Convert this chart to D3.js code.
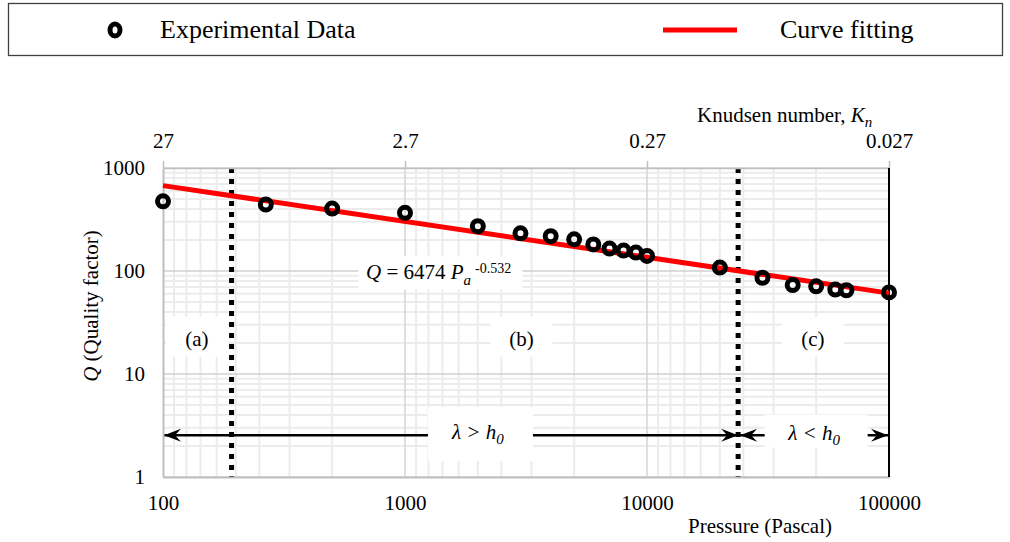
<!DOCTYPE html>
<html>
<head>
<meta charset="utf-8">
<script src="https://cdn.jsdelivr.net/npm/d3@7/dist/d3.min.js"></script>
<style>
  html, body { margin: 0; padding: 0; background: #fff; }
  svg { display: block; font-family: "Liberation Serif", "Times New Roman", serif; }
</style>
</head>
<body>
<svg id="chart" width="1010" height="542"></svg>
<script>
// Measured quality factor vs. chamber pressure
const pressure = [100, 266, 500, 1000, 2000, 3000, 4000, 5000, 6000, 7000, 8000, 9000, 10000,
                  20000, 30000, 40000, 50000, 60000, 66700, 100000];
const quality  = [475, 442, 404, 367, 272, 232, 218, 203, 181, 165, 158, 151, 140,
                  108, 86, 73, 71, 66, 65, 62];

// Power-law fit drawn as the red curve
const fitCoef = 3350;
const fitExp = -0.348;

// Axis ticks
const pressureTicks = [100, 1000, 10000, 100000];
const qualityTicks = [1, 10, 100, 1000];
const knudsenTicks = [27, 2.7, 0.27, 0.027];
const knudsenLabels = ["27", "2.7", "0.27", "0.027"];

// Regime boundaries (Pa)
const boundaries = [192, 23800];

const svg = d3.select("#chart");

const x = d3.scaleLog().domain([100, 100000]).range([163, 889]);
const y = d3.scaleLog().domain([1, 1000]).range([477, 168]);
const kn = d3.scaleLog().domain([27, 0.027]).range([163, 889]);

// ---- gridlines ----
const grid = svg.append("g");
const minorY = [];
[1, 10, 100].forEach(d => { for (let k = 2; k <= 9; k++) minorY.push(d * k); });
const minorKn = [];
[0.027, 0.27, 2.7].forEach(d => { for (let k = 2; k <= 9; k++) minorKn.push(d * k); });

grid.selectAll(".mx").data(minorKn).join("line")
  .attr("x1", d => kn(d)).attr("x2", d => kn(d))
  .attr("y1", y(1000)).attr("y2", y(1))
  .attr("stroke", "#ececec").attr("stroke-width", 2);
grid.selectAll(".my").data(minorY).join("line")
  .attr("x1", x(100)).attr("x2", x(100000))
  .attr("y1", d => y(d)).attr("y2", d => y(d))
  .attr("stroke", "#ececec").attr("stroke-width", 2);
grid.selectAll(".Mx").data(pressureTicks.slice(1, 3)).join("line")
  .attr("x1", d => x(d)).attr("x2", d => x(d))
  .attr("y1", y(1000)).attr("y2", y(1))
  .attr("stroke", "#d4d4d4").attr("stroke-width", 1.5);
grid.selectAll(".My").data(qualityTicks).join("line")
  .attr("x1", x(100)).attr("x2", x(100000))
  .attr("y1", d => y(d)).attr("y2", d => y(d))
  .attr("stroke", "#d0d0d0").attr("stroke-width", 1.5);

// ---- regime arrows ----
const defs = svg.append("defs");
["arrowEnd", "arrowStart"].forEach((id, i) => {
  defs.append("marker").attr("id", id)
    .attr("viewBox", "-18 -8 20 16").attr("refX", 0).attr("refY", 0)
    .attr("markerWidth", 20).attr("markerHeight", 16)
    .attr("markerUnits", "userSpaceOnUse")
    .attr("orient", i === 0 ? "auto" : "auto-start-reverse")
    .append("path").attr("d", "M0,0 L-17,-6.5 L-11,0 L-17,6.5 Z").attr("fill", "#000");
});
const arrowQ = 2.55;
const arrows = svg.append("g");
arrows.append("line")
  .attr("x1", x(boundaries[1])).attr("x2", x(100) + 1)
  .attr("y1", y(arrowQ)).attr("y2", y(arrowQ))
  .attr("stroke", "#000").attr("stroke-width", 2.5)
  .attr("marker-end", "url(#arrowEnd)").attr("marker-start", "url(#arrowStart)");
arrows.append("line")
  .attr("x1", x(boundaries[1]) + 2).attr("x2", x(100000) - 1)
  .attr("y1", y(arrowQ)).attr("y2", y(arrowQ))
  .attr("stroke", "#000").attr("stroke-width", 2.5)
  .attr("marker-end", "url(#arrowEnd)").attr("marker-start", "url(#arrowStart)");

// ---- annotation boxes and labels ----
const notes = svg.append("g");
function box(cx, cy, w, h) {
  notes.append("rect").attr("x", cx - w / 2).attr("y", cy - h / 2)
    .attr("width", w).attr("height", h).attr("fill", "#fff");
}
const regionLabels = [
  { text: "(a)", p: 138, q: 22 },
  { text: "(b)", p: 3030, q: 22 },
  { text: "(c)", p: 48500, q: 22 }
];
regionLabels.forEach(r => box(x(r.p), y(r.q) - 2, 62, 40));
box(x(2050), y(arrowQ) - 1, 105, 54);
box(x(50000), y(arrowQ) - 4, 103, 33);
box(x(1400), y(96), 164, 33);

notes.selectAll(".reg").data(regionLabels).join("text")
  .attr("x", d => x(d.p)).attr("y", d => y(d.q) + 7)
  .attr("text-anchor", "middle").attr("font-size", 21).text(d => d.text);

function lambdaLabel(cx, cy, sym) {
  const t = notes.append("text").attr("x", cx).attr("y", cy)
    .attr("text-anchor", "middle").attr("font-size", 21).attr("font-style", "italic");
  t.append("tspan").text("λ " + sym + " h");
  t.append("tspan").attr("font-size", 15).attr("dy", 5).text("0");
}
lambdaLabel(x(2000), y(arrowQ) + 4, ">");
lambdaLabel(x(50000) - 2, y(arrowQ) + 5, "<");

// Fit equation
const eq = notes.append("text").attr("x", 366).attr("y", y(96) + 6).attr("font-size", 21);
eq.append("tspan").attr("font-style", "italic").text("Q");
eq.append("tspan").text(" = 6474 ");
eq.append("tspan").attr("font-style", "italic").text("P");
eq.append("tspan").attr("font-style", "italic").attr("font-size", 15).attr("dy", 6).text("a");
eq.append("tspan").attr("font-size", 14).attr("dy", -12).attr("dx", 4).text("-0.532");

// ---- regime boundary lines ----
svg.append("g").selectAll("line").data(boundaries).join("line")
  .attr("x1", d => x(d)).attr("x2", d => x(d))
  .attr("y1", y(1000)).attr("y2", y(1))
  .attr("stroke", "#000").attr("stroke-width", 5).attr("stroke-dasharray", "5,6");

// ---- axes ----
const axisColor = "#bfbfbf";
const axisB = svg.append("g").attr("transform", `translate(0,${y(1)})`)
  .call(d3.axisBottom(x).tickValues(pressureTicks).tickFormat(d3.format("d")).tickSize(0).tickPadding(18));
axisB.select(".domain").attr("stroke", axisColor).attr("stroke-width", 2);
axisB.selectAll("text").attr("font-size", 21).attr("font-family", "Liberation Serif").attr("fill", "#000");

const axisL = svg.append("g").attr("transform", `translate(${x(100)},0)`)
  .call(d3.axisLeft(y).tickValues(qualityTicks).tickFormat(d3.format("d")).tickSize(0).tickPadding(18));
axisL.select(".domain").attr("stroke", axisColor).attr("stroke-width", 2);
axisL.selectAll("text").attr("font-size", 21).attr("font-family", "Liberation Serif").attr("fill", "#000");

const axisT = svg.append("g").attr("transform", `translate(0,${y(1000)})`)
  .call(d3.axisTop(kn).tickValues(knudsenTicks).tickFormat((d, i) => knudsenLabels[i]).tickSize(7).tickSizeOuter(0).tickPadding(13));
axisT.select(".domain").attr("stroke", axisColor).attr("stroke-width", 1.5);
axisT.selectAll(".tick line").attr("stroke", axisColor).attr("stroke-width", 1.5);
axisT.selectAll("text").attr("font-size", 21).attr("font-family", "Liberation Serif").attr("fill", "#000");

// right boundary
svg.append("line").attr("x1", x(100000)).attr("x2", x(100000))
  .attr("y1", y(1000)).attr("y2", y(1)).attr("stroke", "#000").attr("stroke-width", 2);

// axis titles
svg.append("text").attr("x", 760).attr("y", 533).attr("text-anchor", "middle")
  .attr("font-size", 21).text("Pressure (Pascal)");
const knT = svg.append("text").attr("x", 697).attr("y", 122).attr("font-size", 21);
knT.append("tspan").text("Knudsen number, ");
knT.append("tspan").attr("font-style", "italic").text("K");
knT.append("tspan").attr("font-style", "italic").attr("font-size", 15).attr("dy", 5).text("n");
const yT = svg.append("text").attr("transform", "translate(98,306) rotate(-90)")
  .attr("text-anchor", "middle").attr("font-size", 21);
yT.append("tspan").attr("font-style", "italic").text("Q");
yT.append("tspan").text(" (Quality factor)");

// ---- fit curve ----
const fitP = [100, 100000];
svg.append("path")
  .datum(fitP)
  .attr("d", d3.line().x(p => x(p)).y(p => y(fitCoef * Math.pow(p, fitExp))))
  .attr("fill", "none").attr("stroke", "#ff0000").attr("stroke-width", 5);

// ---- data markers ----
svg.append("g").selectAll("circle").data(pressure.map((p, i) => [p, quality[i]])).join("circle")
  .attr("cx", d => x(d[0])).attr("cy", d => y(d[1])).attr("r", 5.5)
  .attr("fill", "none").attr("stroke", "#000").attr("stroke-width", 5);

// ---- legend ----
const lg = svg.append("g");
lg.append("rect").attr("x", 8.5).attr("y", 3.5).attr("width", 994).attr("height", 52)
  .attr("fill", "#fff").attr("stroke", "#404040").attr("stroke-width", 1.3);
lg.append("ellipse").attr("cx", 115).attr("cy", 30).attr("rx", 5).attr("ry", 6)
  .attr("fill", "none").attr("stroke", "#000").attr("stroke-width", 5);
lg.append("text").attr("x", 160).attr("y", 38).attr("font-size", 26).text("Experimental Data");
lg.append("line").attr("x1", 663).attr("x2", 737).attr("y1", 30).attr("y2", 30)
  .attr("stroke", "#ff0000").attr("stroke-width", 5);
lg.append("text").attr("x", 780).attr("y", 38).attr("font-size", 26).text("Curve fitting");
</script>
</body>
</html>
